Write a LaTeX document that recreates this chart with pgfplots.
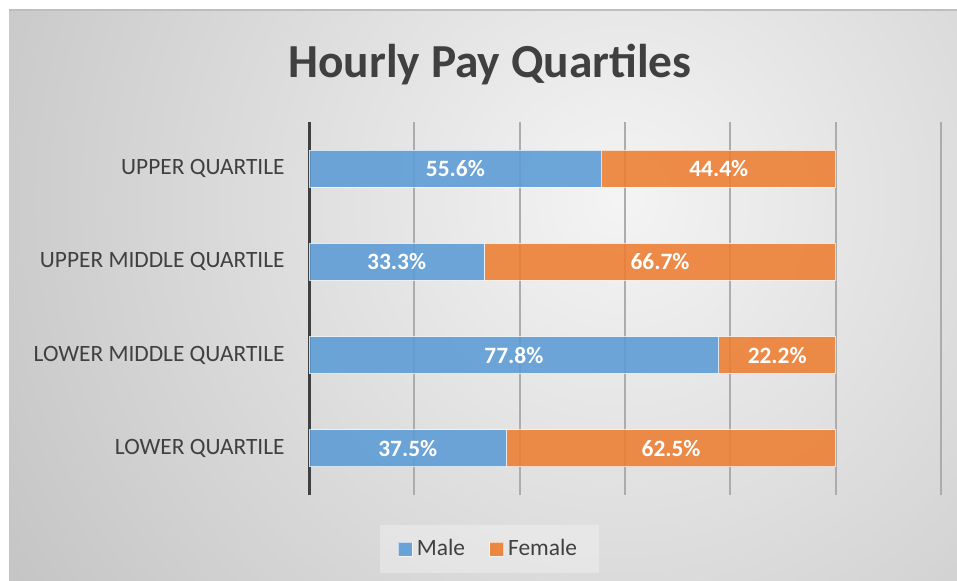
\documentclass[border=0pt]{standalone}
\usepackage{pgfplots}
\pgfplotsset{compat=1.18}
\usepackage{fontspec}
\setmainfont{Carlito}
\definecolor{mblue}{RGB}{91,155,213}
\definecolor{forange}{RGB}{237,125,49}
\definecolor{txt}{RGB}{64,64,64}
\definecolor{bgouter}{RGB}{194,194,194}
\definecolor{bginner}{RGB}{244,244,244}
\definecolor{gridc}{RGB}{172,172,172}
\definecolor{bordc}{RGB}{190,190,190}
\begin{document}
\begin{tikzpicture}
\useasboundingbox (0,0) rectangle (478.5pt,290pt);
\fill[white] (0,0) rectangle (478.5pt,290pt);
\begin{scope}
\clip (4.5pt,-5pt) rectangle (480pt,285pt);
\fill[bgouter] (4.5pt,-5pt) rectangle (480pt,285pt);
\shade[inner color=bginner, outer color=bgouter] (310pt,190pt) circle (380pt);
\end{scope}
\draw[bordc, line width=1pt] (4.5pt,285pt) -- (480pt,285pt);
\node[font=\fontsize{23.7}{28}\selectfont\bfseries, text=txt, anchor=base, inner sep=0pt] at (245pt,251.5pt) {Hourly Pay Quartiles};
\begin{axis}[
  at={(154.5pt,42.5pt)}, anchor=south west,
  scale only axis, width=316pt, height=186.5pt,
  xbar stacked, bar width=18.5pt,
  xmin=0, xmax=120, ymin=-0.5, ymax=3.5,
  xtick={0,20,...,120}, xticklabels={},
  xmajorgrids, grid style={gridc, line width=1pt},
  major tick length=0pt,
  ytick={0,1,2,3},
  yticklabels={LOWER QUARTILE, LOWER MIDDLE QUARTILE, UPPER MIDDLE QUARTILE, UPPER QUARTILE},
  yticklabel style={font=\fontsize{11.7}{14}\selectfont, text=txt, inner sep=0pt, xshift=-12pt},
  axis y line*=left, axis x line*=bottom,
  x axis line style={draw=none},
  y axis line style={txt, line width=1.5pt},
  /pgf/number format/assume math mode=true,
  visualization depends on={rawx \as \rawx},
  nodes near coords={\pgfmathprintnumber[fixed,fixed zerofill,precision=1]{\rawx}\%},
  every node near coord/.append style={font=\fontsize{11.7}{14}\selectfont\bfseries, text=white, text opacity=1, anchor=center},
  legend style={at={(0.2856,-0.1448)}, anchor=center, legend columns=2, draw=none, fill=white, fill opacity=0.3, text opacity=1, font=\fontsize{11.7}{14}\selectfont, text=txt, inner xsep=9pt, inner ysep=5pt, /tikz/every even column/.append style={column sep=10pt}},
  legend image code/.code={\filldraw[#1, fill opacity=0.9, draw=white, draw opacity=0.6, line width=0.5pt] (0pt,-3.5pt) rectangle (7pt,3.5pt);},
]
\addplot[fill=mblue, fill opacity=0.88, draw=white, draw opacity=0.7, line width=0.6pt] coordinates {(37.5,0) (77.8,1) (33.3,2) (55.6,3)};
\addlegendentry{Male}
\addplot[fill=forange, fill opacity=0.88, draw=white, draw opacity=0.7, line width=0.6pt] coordinates {(62.5,0) (22.2,1) (66.7,2) (44.4,3)};
\addlegendentry{Female}
\end{axis}
\end{tikzpicture}
\end{document}
